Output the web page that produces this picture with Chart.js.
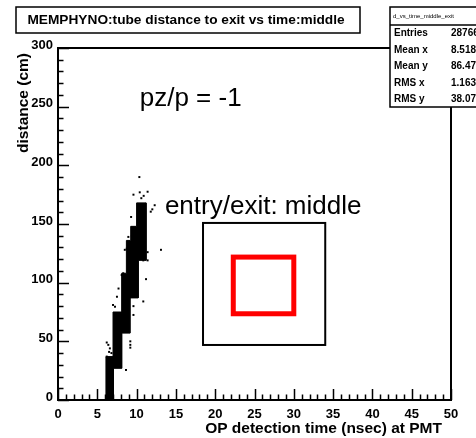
<!DOCTYPE html>
<html>
<head>
<meta charset="utf-8">
<script src="https://cdn.jsdelivr.net/npm/chart.js@4.4.0/dist/chart.umd.min.js"></script>
<style>
  html, body { margin: 0; padding: 0; background: #fff; }
  #wrap { width: 476px; height: 438px; }
</style>
</head>
<body>
<div id="wrap"><canvas id="main-chart" width="476" height="438"></canvas></div>
<script>
// axis ticks
const xTickLabels = [0, 5, 10, 15, 20, 25, 30, 35, 40, 45, 50];
const yTickLabels = [0, 50, 100, 150, 200, 250, 300];

// dense band of the 2D histogram, as staircase edges (x in nsec, top of each step in cm)
const bandLeftX = [6.1, 7.0, 8.1, 8.7, 9.25, 10.0];
const bandLeftTop = [37, 75, 108, 136, 148, 168];
const bandRightX = [7.05, 8.1, 9.15, 10.2, 11.2];
const bandRightTop = [27, 57, 87, 119, 168];

// isolated filled cells around the band
const outlierX = [10.35, 9.6, 10.4, 11.4, 10.9, 10.6, 12.3, 12.0, 11.8, 9.3, 13.1, 10.85, 11.4, 10.85, 11.4,
  11.2, 10.85, 9.6, 9.6, 9.2, 9.2, 9.2, 8.65, 7.25, 7.0, 7.5, 7.7, 8.1, 8.3, 8.5, 8.75, 8.95, 9.4,
  6.2, 6.4, 6.6, 6.5, 6.8, 6.2];
const outlierY = [190, 175, 177, 177.5, 174, 172, 166, 162.5, 160.5, 156, 128, 126, 126, 119, 119,
  103, 84, 80, 72.5, 50, 47, 44.6, 25.6, 79.5, 81, 88, 95, 106.5, 108, 128, 129, 139, 140,
  49, 47, 44, 41, 40, 37];

// stats box
const statsName = 'd_vs_time_middle_exit';
const statsLabels = ['Entries', 'Mean x', 'Mean y', 'RMS x', 'RMS y'];
const statsValues = ['28766', '8.518', '86.47', '1.163', '38.07'];

const titleText = 'MEMPHYNO:tube distance to exit vs time:middle';
const xTitle = 'OP detection time (nsec) at PMT';
const yTitle = 'distance (cm)';

// build the band outline: up the left edge, down the right edge
const bandOutline = [];
let prevTop = 0;
bandLeftX.forEach((x, i) => {
  bandOutline.push({x: x, y: prevTop});
  bandOutline.push({x: x, y: bandLeftTop[i]});
  prevTop = bandLeftTop[i];
});
for (let i = bandRightX.length - 1; i >= 0; i--) {
  const bottom = i > 0 ? bandRightTop[i - 1] : 0;
  bandOutline.push({x: bandRightX[i], y: bandRightTop[i]});
  bandOutline.push({x: bandRightX[i], y: bottom});
}

const outliers = outlierX.map((x, i) => ({x: x, y: outlierY[i]}));

const FONT = "'Liberation Sans', Arial, Helvetica, sans-serif";

// draws the ROOT-like frame, ticks, labels, annotations and stats box
const rootFrame = {
  id: 'rootFrame',
  afterDraw(chart) {
    const ctx = chart.ctx;
    const xs = chart.scales.x, ys = chart.scales.y;
    const a = chart.chartArea;
    const px = v => xs.getPixelForValue(v);
    const py = v => ys.getPixelForValue(v);

    ctx.save();
    ctx.strokeStyle = '#000';
    ctx.fillStyle = '#000';

    // frame
    ctx.lineWidth = 2;
    ctx.strokeRect(a.left, a.top, a.right - a.left, a.bottom - a.top);

    // x ticks (inward, minor every 1)
    ctx.lineWidth = 1.5;
    ctx.beginPath();
    for (let v = 0; v <= 50; v++) {
      const len = v % 5 === 0 ? 11 : 5.5;
      const x = Math.round(px(v)) + 0.5;
      ctx.moveTo(x, a.bottom);
      ctx.lineTo(x, a.bottom - len);
    }
    // y ticks (inward, minor every 10)
    for (let v = 0; v <= 300; v += 10) {
      const len = v % 50 === 0 ? 11 : 5.5;
      const y = Math.round(py(v)) + 0.5;
      ctx.moveTo(a.left, y);
      ctx.lineTo(a.left + len, y);
    }
    ctx.stroke();

    // tick labels
    ctx.font = 'bold 13px ' + FONT;
    ctx.textAlign = 'center';
    ctx.textBaseline = 'middle';
    xTickLabels.forEach(v => ctx.fillText(String(v), px(v), a.bottom + 14));
    ctx.textAlign = 'right';
    yTickLabels.forEach(v => ctx.fillText(String(v), a.left - 5, py(v) - 3));

    // axis titles
    ctx.font = 'bold 15.5px ' + FONT;
    ctx.textAlign = 'right';
    ctx.textBaseline = 'alphabetic';
    ctx.fillText(xTitle, a.right - 9, a.bottom + 33);
    ctx.save();
    ctx.translate(28, a.top + 5);
    ctx.rotate(-Math.PI / 2);
    ctx.fillText(yTitle, 0, 0);
    ctx.restore();

    // annotations
    ctx.font = '26px ' + FONT;
    ctx.textAlign = 'left';
    ctx.fillText('pz/p = -1', px(10.4), py(250.6));
    ctx.fillText('entry/exit: middle', px(13.6), py(158.6));

    // inset diagram: outer black square and red entry/exit square
    ctx.lineWidth = 2;
    ctx.strokeStyle = '#000';
    ctx.strokeRect(px(18.45), py(150.9), px(34.0) - px(18.45), py(46.9) - py(150.9));
    ctx.lineWidth = 5;
    ctx.strokeStyle = '#ff0000';
    ctx.strokeRect(px(22.3), py(121.8), px(30.0) - px(22.3), py(73.5) - py(121.8));

    // title box
    ctx.fillStyle = '#fff';
    ctx.fillRect(16, 7, 344, 26);
    ctx.lineWidth = 1.5;
    ctx.strokeStyle = '#000';
    ctx.strokeRect(16, 7, 344, 26);
    ctx.fillStyle = '#000';
    ctx.font = 'bold 13.7px ' + FONT;
    ctx.textAlign = 'center';
    ctx.textBaseline = 'middle';
    ctx.fillText(titleText, 186, 20.5);

    // stats box
    ctx.fillStyle = '#fff';
    ctx.fillRect(390, 7, 100, 100);
    ctx.strokeRect(390, 7, 100, 100);
    ctx.beginPath();
    ctx.moveTo(390, 25);
    ctx.lineTo(476, 25);
    ctx.stroke();
    ctx.fillStyle = '#000';
    ctx.font = '6px ' + FONT;
    ctx.textAlign = 'left';
    ctx.fillText(statsName, 393, 16);
    ctx.font = 'bold 10px ' + FONT;
    statsLabels.forEach((lab, i) => {
      const y = 33.5 + i * 16.5;
      ctx.fillText(lab, 394, y);
      ctx.fillText(statsValues[i], 451, y);
    });
    ctx.restore();
  }
};

const ctx = document.getElementById('main-chart').getContext('2d');
new Chart(ctx, {
  type: 'scatter',
  data: {
    datasets: [{
      type: 'line',
      label: 'band',
      data: bandOutline,
      showLine: true,
      fill: 'shape',
      backgroundColor: '#000',
      borderColor: '#000',
      borderWidth: 1,
      pointRadius: 0,
      tension: 0
    }, {
      label: 'cells',
      data: outliers,
      pointStyle: 'rect',
      pointRadius: 1.4,
      borderWidth: 0,
      backgroundColor: '#000'
    }]
  },
  options: {
    responsive: false,
    animation: false,
    devicePixelRatio: 1,
    layout: { padding: { left: 58, top: 48, right: 25, bottom: 38 } },
    scales: {
      x: { type: 'linear', min: 0, max: 50, display: false },
      y: { type: 'linear', min: 0, max: 300, display: false }
    },
    plugins: {
      legend: { display: false },
      tooltip: { enabled: false }
    }
  },
  plugins: [rootFrame]
});
</script>
</body>
</html>
